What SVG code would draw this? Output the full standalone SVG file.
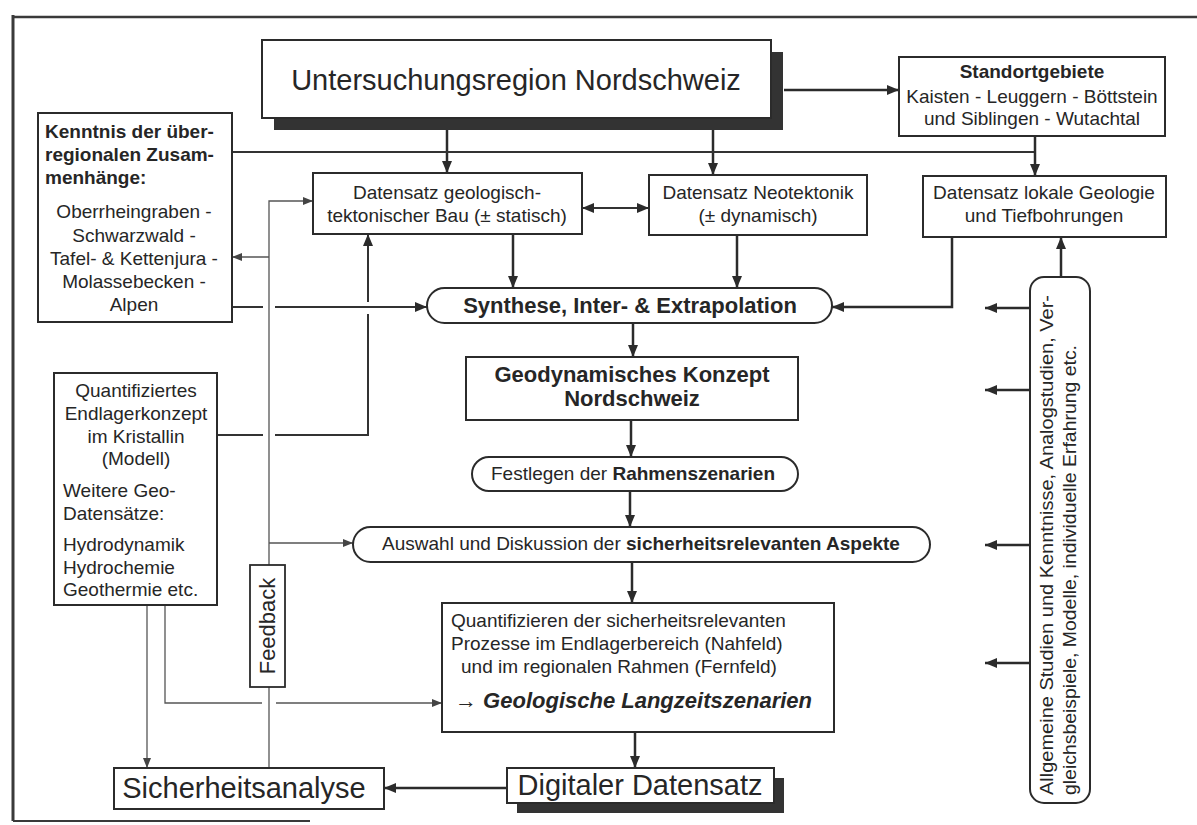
<svg xmlns="http://www.w3.org/2000/svg" width="1197" height="825" viewBox="0 0 1197 825">
<style>
.box{fill:#fff;stroke:#2b2b2b;stroke-width:2}
.sh{fill:#333;stroke:none}
.t{font-family:"Liberation Sans",Arial,Helvetica,sans-serif;fill:#262626;font-size:19px}
.b{font-weight:bold}
.m{text-anchor:middle}
.c{stroke:#2b2b2b;stroke-width:2.5;fill:none}
.c2{stroke:#333;stroke-width:2;fill:none}
.th{stroke:#555;stroke-width:1.3;fill:none}
</style>
<defs>
<marker id="a" markerUnits="userSpaceOnUse" markerWidth="12" markerHeight="10" refX="12" refY="5" orient="auto"><path d="M0,0 L12,5 L0,10 z" fill="#2b2b2b"/></marker>
<marker id="as" markerUnits="userSpaceOnUse" markerWidth="12" markerHeight="10" refX="12" refY="5" orient="auto-start-reverse"><path d="M0,0 L12,5 L0,10 z" fill="#2b2b2b"/></marker>
<marker id="s" markerUnits="userSpaceOnUse" markerWidth="10" markerHeight="8" refX="10" refY="4" orient="auto"><path d="M0,0 L10,4 L0,8 z" fill="#444"/></marker>
</defs>
<rect width="1197" height="825" fill="#fff"/>
<g id="frame" fill="none" stroke="#3a3a3a">
<path d="M1197,17 H13" stroke-width="2.5"/>
<path d="M13,15 V821" stroke-width="3"/>
<path d="M13,821 H310" stroke-width="2"/>
</g>

<g id="connectors">
<path class="c" d="M784,90 H899" marker-end="url(#a)"/>
<path class="c" d="M447,130 V173" marker-end="url(#a)"/>
<path class="c" d="M713,130 V175" marker-end="url(#a)"/>
<path class="c2" d="M232,152 H1035"/>
<path class="c" d="M1035,136 V176" marker-end="url(#a)"/>
<path class="c2" d="M582,208 H649" marker-start="url(#as)" marker-end="url(#as)"/>
<path class="c" d="M513,234 V288" marker-end="url(#a)"/>
<path class="c" d="M737,235 V288" marker-end="url(#a)"/>
<path class="c" d="M952,237 V307 H832" marker-end="url(#a)"/>
<path class="c2" d="M232,307 H263 M275,307 H427" marker-end="url(#a)"/>
<path class="c" d="M1061,277 V237" marker-end="url(#a)"/>
<path class="c" d="M1030,308 H985" marker-end="url(#a)"/>
<path class="c" d="M1030,390 H985" marker-end="url(#a)"/>
<path class="c" d="M1030,545 H985" marker-end="url(#a)"/>
<path class="c" d="M1030,663 H985" marker-end="url(#a)"/>
<path class="c" d="M633,323 V357" marker-end="url(#a)"/>
<path class="c" d="M631,420 V457" marker-end="url(#a)"/>
<path class="c" d="M630,491 V527" marker-end="url(#a)"/>
<path class="c" d="M632,562 V603" marker-end="url(#a)"/>
<path class="c" d="M635,732 V768" marker-end="url(#a)"/>
<path class="c" d="M507,788 H384" marker-end="url(#a)"/>
<path class="c2" d="M217,435 H263 M275,435 H368 V314 M368,302 V234" marker-end="url(#a)"/>
<path class="th" d="M269,768 V687"/>
<path class="th" d="M269,565 V201 H313" marker-end="url(#s)"/>
<path class="th" d="M269,257 H232" marker-end="url(#s)"/>
<path class="th" d="M269,543 H353" marker-end="url(#s)"/>
<path class="th" d="M147,605 V768" marker-end="url(#s)"/>
<path class="th" d="M165,605 V703 H262 M276,703 H442" marker-end="url(#s)"/>
</g>

<g id="untersuchungsregion">
<rect class="sh" x="274" y="52" width="509" height="78"/>
<rect class="box" x="262" y="40" width="509" height="78"/>
<text class="t m" x="516" y="90" style="font-size:29px">Untersuchungsregion Nordschweiz</text>
</g>

<g id="standortgebiete">
<rect class="box" x="899" y="57" width="266" height="79"/>
<text class="t m b" x="1032" y="78">Standortgebiete</text>
<text class="t m" x="1032" y="103">Kaisten - Leuggern - Böttstein</text>
<text class="t m" x="1032" y="125">und Siblingen - Wutachtal</text>
</g>

<g id="kenntnis">
<rect class="box" x="38" y="113" width="194" height="209"/>
<text class="t b" x="45" y="138">Kenntnis der über-</text>
<text class="t b" x="45" y="161">regionalen Zusam-</text>
<text class="t b" x="45" y="184">menhänge:</text>
<text class="t m" x="134" y="218">Oberrheingraben -</text>
<text class="t m" x="134" y="242">Schwarzwald -</text>
<text class="t m" x="134" y="265">Tafel- &amp; Kettenjura -</text>
<text class="t m" x="134" y="288">Molassebecken -</text>
<text class="t m" x="134" y="311">Alpen</text>
</g>

<g id="geologisch">
<rect class="box" x="313" y="173" width="269" height="61"/>
<text class="t m" x="447" y="199">Datensatz geologisch-</text>
<text class="t m" x="447" y="222">tektonischer Bau (± statisch)</text>
</g>

<g id="neotektonik">
<rect class="box" x="649" y="175" width="218" height="60"/>
<text class="t m" x="758" y="199">Datensatz Neotektonik</text>
<text class="t m" x="758" y="222">(± dynamisch)</text>
</g>

<g id="lokale-geologie">
<rect class="box" x="923" y="176" width="243" height="61"/>
<text class="t m" x="1044" y="199">Datensatz lokale Geologie</text>
<text class="t m" x="1044" y="222">und Tiefbohrungen</text>
</g>

<g id="synthese">
<rect class="box" x="427" y="288" width="405" height="35" rx="17.5"/>
<text class="t m b" x="630" y="313" style="font-size:22px">Synthese, Inter- &amp; Extrapolation</text>
</g>

<g id="geodynamisch">
<rect class="box" x="466" y="357" width="332" height="63"/>
<text class="t m b" x="632" y="382" style="font-size:22px">Geodynamisches Konzept</text>
<text class="t m b" x="632" y="406" style="font-size:22px">Nordschweiz</text>
</g>

<g id="festlegen">
<rect class="box" x="472" y="457" width="326" height="34" rx="17"/>
<text class="t m" x="633" y="480">Festlegen der <tspan class="b">Rahmenszenarien</tspan></text>
</g>

<g id="auswahl">
<rect class="box" x="353" y="527" width="577" height="35" rx="17.5"/>
<text class="t m" x="641" y="550">Auswahl und Diskussion der <tspan class="b">sicherheitsrelevanten Aspekte</tspan></text>
</g>

<g id="quantifizieren">
<rect class="box" x="442" y="603" width="392" height="129"/>
<text class="t" x="451" y="627">Quantifizieren der sicherheitsrelevanten</text>
<text class="t" x="451" y="650">Prozesse im Endlagerbereich (Nahfeld)</text>
<text class="t" x="461" y="673">und im regionalen Rahmen (Fernfeld)</text>
<text class="t b" x="455" y="708" style="font-size:22px;font-style:italic">→ Geologische Langzeitszenarien</text>
</g>

<g id="digitaler-datensatz">
<rect class="sh" x="517" y="778" width="267" height="35"/>
<rect class="box" x="507" y="768" width="267" height="35"/>
<text class="t m" x="640" y="795" style="font-size:29px">Digitaler Datensatz</text>
</g>

<g id="sicherheitsanalyse">
<rect class="box" x="114" y="768" width="270" height="41"/>
<text class="t m" x="244" y="798" style="font-size:29px">Sicherheitsanalyse</text>
</g>

<g id="quantifiziertes">
<rect class="box" x="54" y="373" width="163" height="232"/>
<text class="t m" x="136" y="397">Quantifiziertes</text>
<text class="t m" x="136" y="420">Endlagerkonzept</text>
<text class="t m" x="136" y="443">im Kristallin</text>
<text class="t m" x="136" y="465">(Modell)</text>
<text class="t" x="63" y="497">Weitere Geo-</text>
<text class="t" x="63" y="520">Datensätze:</text>
<text class="t" x="63" y="551">Hydrodynamik</text>
<text class="t" x="63" y="574">Hydrochemie</text>
<text class="t" x="63" y="596">Geothermie etc.</text>
</g>

<g id="feedback">
<rect class="box" x="250" y="565" width="35" height="122" style="stroke-width:1.8"/>
<text class="t m" transform="translate(275,626) rotate(-90)" style="font-size:22px">Feedback</text>
</g>

<g id="allgemeine">
<rect class="box" x="1030" y="277" width="60" height="526" rx="14"/>
<text class="t" transform="translate(1053,795) rotate(-90)" textLength="500" lengthAdjust="spacingAndGlyphs">Allgemeine Studien und Kenntnisse, Analogstudien, Ver-</text>
<text class="t" transform="translate(1076,795) rotate(-90)" textLength="450" lengthAdjust="spacingAndGlyphs">gleichsbeispiele, Modelle, individuelle Erfahrung etc.</text>
</g>
</svg>
